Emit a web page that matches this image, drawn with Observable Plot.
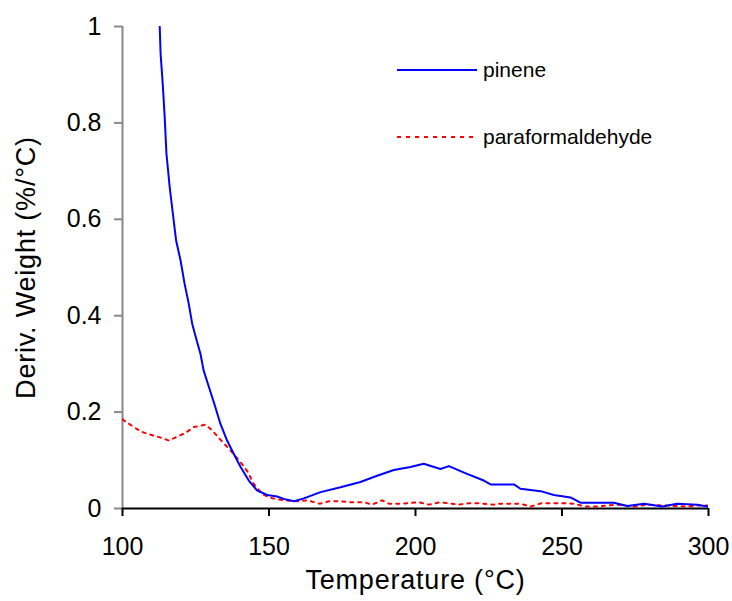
<!DOCTYPE html>
<html>
<head>
<meta charset="utf-8">
<script src="https://cdn.jsdelivr.net/npm/d3@7"></script>
<script src="https://cdn.jsdelivr.net/npm/@observablehq/plot@0.6"></script>
<style>
  html, body { margin: 0; padding: 0; background: #fff; }
  #wrap { position: relative; width: 732px; height: 601px; font-family: 'Liberation Sans', Arial, sans-serif; }
  .legend { position: absolute; left: 397px; font-size: 21px; color: #000; display: flex; align-items: center; }
  .legend svg { margin-right: 6px; }
</style>
</head>
<body>
<div id="wrap"></div>
<script>
// ---- data ----
const pineneT = [112.7,113.0,113.8,114.4,115.0,116.1,117.2,118.3,119.8,121.2,122.6,123.8,125.3,126.6,127.7,129.5,131.7,133.4,135.7,138.0,140.3,143.1,146.0,149.4,152.8,155.0,158.5,161.9,167.6,174.4,181.2,186.9,192.6,198.3,202.8,208.5,211.4,217.6,223.3,225.6,233.6,235.8,242.7,247.2,252.9,256.3,267.7,272.3,278.0,284.2,289.3,296.1,299.6];
const pineneW = [1.000,0.944,0.874,0.812,0.736,0.667,0.611,0.556,0.515,0.466,0.425,0.383,0.349,0.321,0.286,0.252,0.210,0.176,0.141,0.113,0.086,0.058,0.037,0.028,0.025,0.020,0.015,0.021,0.034,0.044,0.055,0.068,0.080,0.086,0.093,0.082,0.088,0.072,0.058,0.050,0.050,0.041,0.036,0.028,0.023,0.012,0.012,0.005,0.010,0.004,0.010,0.008,0.004];

const paraT = [100.0,100.4,103.9,106.1,109.6,113.0,115.8,118.7,121.5,124.3,128.3,130.6,133.4,136.9,140.3,142.6,144.8,147.7,150.5,153.9,159.6,163.0,167.3,170.5,174.4,177.8,182.4,185.2,188.6,190.9,195.5,201.1,204.6,208.5,214.8,218.2,221.6,226.7,229.0,235.8,239.3,243.0,249.5,254.0,258.0,261.4,265.4,268.8,274.5,279.1,285.9,292.7,296.1,300.0];
const paraW = [0.185,0.183,0.169,0.160,0.153,0.147,0.141,0.149,0.157,0.169,0.174,0.162,0.143,0.120,0.096,0.077,0.051,0.030,0.022,0.018,0.015,0.017,0.010,0.015,0.015,0.013,0.013,0.008,0.017,0.010,0.010,0.013,0.008,0.013,0.008,0.011,0.011,0.008,0.010,0.010,0.004,0.011,0.011,0.010,0.004,0.004,0.006,0.008,0.004,0.008,0.006,0.004,0.006,0.006];

const seriesNames = ["pinene", "paraformaldehyde"];
const seriesColors = ["#0000FF", "#FF0000"];
const xTicks = [100, 150, 200, 250, 300];
const yTicks = [0, 0.2, 0.4, 0.6, 0.8, 1];
const xDomain = [100, 300];
const yDomain = [0, 1];
const xTitle = "Temperature (°C)";
const yTitle = "Deriv. Weight (%/°C)";

const pinene = pineneT.map((t, i) => ({t, w: pineneW[i]}));
const para = paraT.map((t, i) => ({t, w: paraW[i]}));

const chart = Plot.plot({
  width: 732,
  height: 601,
  marginLeft: 122,
  marginRight: 24,
  marginTop: 26,
  marginBottom: 93,
  style: { fontFamily: "'Liberation Sans', Arial, sans-serif", background: "#fff", color: "#000" },
  x: { domain: xDomain },
  y: { domain: yDomain },
  marks: [
    Plot.ruleX([xDomain[0]], { stroke: "#888", strokeWidth: 2 }),
    Plot.axisY({ ticks: yTicks, tickSize: 8, tickPadding: 13, tickFormat: d => String(d), fontSize: 25, stroke: "#888", strokeWidth: 2, fill: "#000", label: null }),
    Plot.axisX({ ticks: xTicks, tickSize: 8, tickPadding: 21, tickFormat: d => String(d), fontSize: 25, stroke: "#000", strokeWidth: 2, fill: "#000", label: null }),
    Plot.ruleY([yDomain[0]], { stroke: "#000", strokeWidth: 2 }),
    Plot.line(para, { x: "t", y: "w", stroke: seriesColors[1], strokeWidth: 2, strokeDasharray: "3,5", clip: true }),
    Plot.line(pinene, { x: "t", y: "w", stroke: seriesColors[0], strokeWidth: 2, clip: true }),
    Plot.text([xTitle], { frameAnchor: "bottom", textAnchor: "middle", lineAnchor: "middle", dy: 72, fontSize: 27, fill: "#000" }),
    Plot.text([yTitle], { frameAnchor: "left", textAnchor: "middle", lineAnchor: "middle", rotate: -90, dx: -96, fontSize: 27, fill: "#000" })
  ]
});

d3.select(chart).selectAll("text").each(function() {
  if (this.textContent === xTitle || this.textContent === yTitle) this.style.letterSpacing = "0.8px";
});

const wrap = document.getElementById("wrap");
wrap.appendChild(chart);

// legend overlay
const legendTops = [58, 125];
seriesNames.forEach((name, i) => {
  const div = document.createElement("div");
  div.className = "legend";
  div.style.top = legendTops[i] + "px";
  const dash = i === 1 ? 'stroke-dasharray="4,5"' : '';
  div.innerHTML = `<svg width="80" height="24"><line x1="0" x2="80" y1="12" y2="12" stroke="${seriesColors[i]}" stroke-width="2" ${dash}/></svg><span>${name}</span>`;
  wrap.appendChild(div);
});
</script>
</body>
</html>
